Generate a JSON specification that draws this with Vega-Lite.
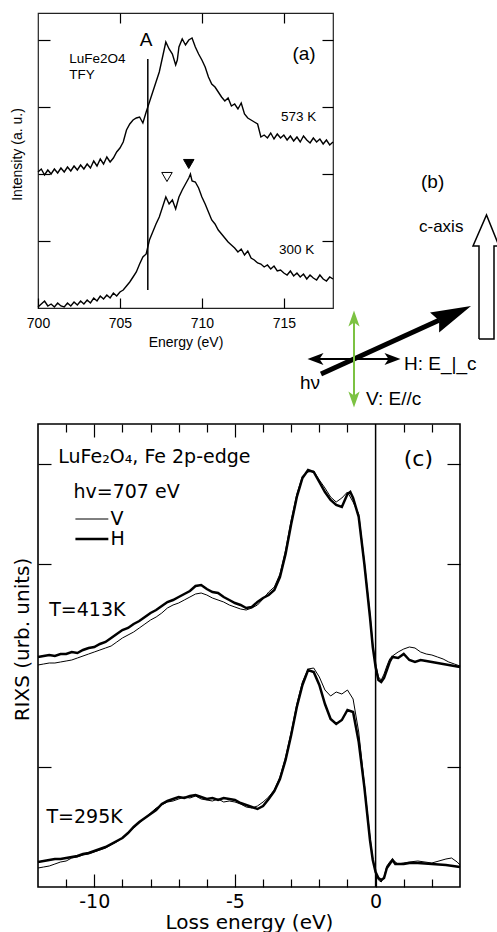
{
  "$schema": "https://vega.github.io/schema/vega-lite/v6.json",
  "background": "white",
  "padding": {"left": 9, "top": 11, "right": 0, "bottom": 0},
  "bounds": "flush",
  "spacing": 116,
  "config": {
    "font": "Liberation Sans",
    "view": {"stroke": "black", "strokeWidth": 1.5},
    "axis": {"domain": false, "grid": false, "tickColor": "black", "labelColor": "black", "titleColor": "black", "titleFontWeight": "normal", "tickWidth": 1.2, "labelFlush": false, "labelOverlap": false}
  },
  "datasets": {
    "xas": [
      {"E":700.0,"I":1,"T":"300"},{"E":700.2,"I":4,"T":"300"},{"E":700.4,"I":7,"T":"300"},{"E":700.6,"I":2,"T":"300"},{"E":700.8,"I":4,"T":"300"},
      {"E":701.0,"I":1,"T":"300"},{"E":701.2,"I":5,"T":"300"},{"E":701.4,"I":2,"T":"300"},{"E":701.6,"I":1,"T":"300"},{"E":701.8,"I":5,"T":"300"},
      {"E":702.0,"I":2,"T":"300"},{"E":702.2,"I":6,"T":"300"},{"E":702.4,"I":3,"T":"300"},{"E":702.6,"I":7,"T":"300"},{"E":702.8,"I":4,"T":"300"},
      {"E":703.0,"I":8,"T":"300"},{"E":703.2,"I":5,"T":"300"},{"E":703.4,"I":10,"T":"300"},{"E":703.6,"I":7,"T":"300"},{"E":703.8,"I":12,"T":"300"},
      {"E":704.0,"I":9,"T":"300"},{"E":704.2,"I":13,"T":"300"},{"E":704.4,"I":10,"T":"300"},{"E":704.6,"I":15,"T":"300"},{"E":704.8,"I":12,"T":"300"},
      {"E":705.0,"I":16,"T":"300"},{"E":705.2,"I":18,"T":"300"},{"E":705.4,"I":22,"T":"300"},{"E":705.6,"I":26,"T":"300"},{"E":705.8,"I":31,"T":"300"},
      {"E":706.0,"I":36,"T":"300"},{"E":706.2,"I":44,"T":"300"},{"E":706.4,"I":51,"T":"300"},{"E":706.6,"I":54,"T":"300"},{"E":706.8,"I":68,"T":"300"},
      {"E":707.0,"I":76,"T":"300"},{"E":707.2,"I":84,"T":"300"},{"E":707.4,"I":91,"T":"300"},{"E":707.6,"I":101,"T":"300"},{"E":707.8,"I":111,"T":"300"},
      {"E":708.0,"I":104,"T":"300"},{"E":708.2,"I":108,"T":"300"},{"E":708.4,"I":99,"T":"300"},{"E":708.6,"I":111,"T":"300"},{"E":708.8,"I":118,"T":"300"},
      {"E":709.0,"I":124,"T":"300"},{"E":709.2,"I":130,"T":"300"},{"E":709.3,"I":134,"T":"300"},{"E":709.4,"I":127,"T":"300"},{"E":709.6,"I":126,"T":"300"},
      {"E":709.8,"I":120,"T":"300"},{"E":710.0,"I":111,"T":"300"},{"E":710.2,"I":104,"T":"300"},{"E":710.4,"I":96,"T":"300"},{"E":710.6,"I":88,"T":"300"},
      {"E":710.8,"I":84,"T":"300"},{"E":711.0,"I":78,"T":"300"},{"E":711.2,"I":74,"T":"300"},{"E":711.4,"I":70,"T":"300"},{"E":711.6,"I":66,"T":"300"},
      {"E":711.8,"I":63,"T":"300"},{"E":712.0,"I":60,"T":"300"},{"E":712.2,"I":56,"T":"300"},{"E":712.4,"I":59,"T":"300"},{"E":712.6,"I":53,"T":"300"},
      {"E":712.8,"I":57,"T":"300"},{"E":713.0,"I":50,"T":"300"},{"E":713.2,"I":48,"T":"300"},{"E":713.4,"I":45,"T":"300"},{"E":713.6,"I":44,"T":"300"},
      {"E":713.8,"I":41,"T":"300"},{"E":714.0,"I":43,"T":"300"},{"E":714.2,"I":39,"T":"300"},{"E":714.4,"I":42,"T":"300"},{"E":714.6,"I":37,"T":"300"},
      {"E":714.8,"I":38,"T":"300"},{"E":715.0,"I":35,"T":"300"},{"E":715.2,"I":33,"T":"300"},{"E":715.4,"I":37,"T":"300"},{"E":715.6,"I":32,"T":"300"},
      {"E":715.8,"I":35,"T":"300"},{"E":716.0,"I":31,"T":"300"},{"E":716.2,"I":34,"T":"300"},{"E":716.4,"I":29,"T":"300"},{"E":716.6,"I":33,"T":"300"},
      {"E":716.8,"I":30,"T":"300"},{"E":717.0,"I":28,"T":"300"},{"E":717.2,"I":33,"T":"300"},{"E":717.4,"I":29,"T":"300"},{"E":717.6,"I":27,"T":"300"},
      {"E":717.8,"I":31,"T":"300"},{"E":718.0,"I":29,"T":"300"},
      {"E":700.0,"I":136,"T":"573"},{"E":700.2,"I":139,"T":"573"},{"E":700.4,"I":133,"T":"573"},{"E":700.6,"I":138,"T":"573"},{"E":700.8,"I":134,"T":"573"},
      {"E":701.0,"I":139,"T":"573"},{"E":701.2,"I":135,"T":"573"},{"E":701.4,"I":140,"T":"573"},{"E":701.6,"I":136,"T":"573"},{"E":701.8,"I":141,"T":"573"},
      {"E":702.0,"I":137,"T":"573"},{"E":702.2,"I":142,"T":"573"},{"E":702.4,"I":138,"T":"573"},{"E":702.6,"I":143,"T":"573"},{"E":702.8,"I":139,"T":"573"},
      {"E":703.0,"I":144,"T":"573"},{"E":703.2,"I":140,"T":"573"},{"E":703.4,"I":147,"T":"573"},{"E":703.6,"I":142,"T":"573"},{"E":703.8,"I":149,"T":"573"},
      {"E":704.0,"I":144,"T":"573"},{"E":704.2,"I":151,"T":"573"},{"E":704.4,"I":146,"T":"573"},{"E":704.6,"I":150,"T":"573"},{"E":704.8,"I":156,"T":"573"},
      {"E":705.0,"I":160,"T":"573"},{"E":705.2,"I":166,"T":"573"},{"E":705.4,"I":178,"T":"573"},{"E":705.6,"I":184,"T":"573"},{"E":705.8,"I":188,"T":"573"},
      {"E":706.0,"I":190,"T":"573"},{"E":706.2,"I":191,"T":"573"},{"E":706.4,"I":185,"T":"573"},{"E":706.6,"I":196,"T":"573"},{"E":706.8,"I":206,"T":"573"},
      {"E":707.0,"I":216,"T":"573"},{"E":707.2,"I":226,"T":"573"},{"E":707.4,"I":236,"T":"573"},{"E":707.6,"I":251,"T":"573"},{"E":707.8,"I":266,"T":"573"},
      {"E":708.0,"I":259,"T":"573"},{"E":708.2,"I":254,"T":"573"},{"E":708.4,"I":243,"T":"573"},{"E":708.5,"I":248,"T":"573"},{"E":708.6,"I":261,"T":"573"},
      {"E":708.8,"I":269,"T":"573"},{"E":709.0,"I":263,"T":"573"},{"E":709.2,"I":268,"T":"573"},{"E":709.4,"I":270,"T":"573"},{"E":709.6,"I":261,"T":"573"},
      {"E":709.8,"I":254,"T":"573"},{"E":710.0,"I":248,"T":"573"},{"E":710.2,"I":241,"T":"573"},{"E":710.4,"I":231,"T":"573"},{"E":710.6,"I":224,"T":"573"},
      {"E":710.8,"I":221,"T":"573"},{"E":711.0,"I":216,"T":"573"},{"E":711.2,"I":211,"T":"573"},{"E":711.4,"I":207,"T":"573"},{"E":711.6,"I":210,"T":"573"},
      {"E":711.8,"I":202,"T":"573"},{"E":712.0,"I":204,"T":"573"},{"E":712.2,"I":199,"T":"573"},{"E":712.4,"I":205,"T":"573"},{"E":712.6,"I":194,"T":"573"},
      {"E":712.8,"I":190,"T":"573"},{"E":713.0,"I":188,"T":"573"},{"E":713.2,"I":186,"T":"573"},{"E":713.4,"I":184,"T":"573"},{"E":713.6,"I":171,"T":"573"},
      {"E":713.8,"I":173,"T":"573"},{"E":714.0,"I":170,"T":"573"},{"E":714.2,"I":175,"T":"573"},{"E":714.4,"I":169,"T":"573"},{"E":714.6,"I":174,"T":"573"},
      {"E":714.8,"I":170,"T":"573"},{"E":715.0,"I":173,"T":"573"},{"E":715.2,"I":168,"T":"573"},{"E":715.4,"I":172,"T":"573"},{"E":715.6,"I":167,"T":"573"},
      {"E":715.8,"I":171,"T":"573"},{"E":716.0,"I":166,"T":"573"},{"E":716.2,"I":172,"T":"573"},{"E":716.4,"I":168,"T":"573"},{"E":716.6,"I":165,"T":"573"},
      {"E":716.8,"I":170,"T":"573"},{"E":717.0,"I":166,"T":"573"},{"E":717.2,"I":169,"T":"573"},{"E":717.4,"I":164,"T":"573"},{"E":717.6,"I":168,"T":"573"},
      {"E":717.8,"I":163,"T":"573"},{"E":718.0,"I":166,"T":"573"}
    ],
    "rixs": [
      {"L":-12,"R":230,"T":"413","pol":"H"},{"L":-11.8,"R":231,"T":"413","pol":"H"},{"L":-11.6,"R":232,"T":"413","pol":"H"},{"L":-11.4,"R":231,"T":"413","pol":"H"},{"L":-11.2,"R":233,"T":"413","pol":"H"},{"L":-11,"R":233,"T":"413","pol":"H"},{"L":-10.8,"R":235,"T":"413","pol":"H"},{"L":-10.6,"R":234,"T":"413","pol":"H"},{"L":-10.4,"R":237,"T":"413","pol":"H"},{"L":-10.2,"R":239,"T":"413","pol":"H"},
      {"L":-10,"R":240,"T":"413","pol":"H"},{"L":-9.8,"R":243,"T":"413","pol":"H"},{"L":-9.6,"R":245,"T":"413","pol":"H"},{"L":-9.4,"R":249,"T":"413","pol":"H"},{"L":-9.2,"R":253,"T":"413","pol":"H"},{"L":-9,"R":257,"T":"413","pol":"H"},{"L":-8.8,"R":259,"T":"413","pol":"H"},{"L":-8.6,"R":263,"T":"413","pol":"H"},{"L":-8.4,"R":266,"T":"413","pol":"H"},{"L":-8.2,"R":270,"T":"413","pol":"H"},
      {"L":-8,"R":274,"T":"413","pol":"H"},{"L":-7.8,"R":277,"T":"413","pol":"H"},{"L":-7.6,"R":281,"T":"413","pol":"H"},{"L":-7.4,"R":285,"T":"413","pol":"H"},{"L":-7.2,"R":287,"T":"413","pol":"H"},{"L":-7,"R":290,"T":"413","pol":"H"},{"L":-6.8,"R":293,"T":"413","pol":"H"},{"L":-6.6,"R":296,"T":"413","pol":"H"},{"L":-6.4,"R":301,"T":"413","pol":"H"},{"L":-6.2,"R":302,"T":"413","pol":"H"},
      {"L":-6,"R":298,"T":"413","pol":"H"},{"L":-5.8,"R":295,"T":"413","pol":"H"},{"L":-5.6,"R":294,"T":"413","pol":"H"},{"L":-5.4,"R":290,"T":"413","pol":"H"},{"L":-5.2,"R":287,"T":"413","pol":"H"},{"L":-5,"R":284,"T":"413","pol":"H"},{"L":-4.8,"R":282,"T":"413","pol":"H"},{"L":-4.6,"R":279,"T":"413","pol":"H"},{"L":-4.4,"R":280,"T":"413","pol":"H"},{"L":-4.2,"R":285,"T":"413","pol":"H"},
      {"L":-4,"R":289,"T":"413","pol":"H"},{"L":-3.8,"R":292,"T":"413","pol":"H"},{"L":-3.6,"R":297,"T":"413","pol":"H"},{"L":-3.4,"R":310,"T":"413","pol":"H"},{"L":-3.2,"R":333,"T":"413","pol":"H"},{"L":-3,"R":363,"T":"413","pol":"H"},{"L":-2.8,"R":390,"T":"413","pol":"H"},{"L":-2.6,"R":409,"T":"413","pol":"H"},{"L":-2.4,"R":417,"T":"413","pol":"H"},{"L":-2.2,"R":415,"T":"413","pol":"H"},
      {"L":-2,"R":405,"T":"413","pol":"H"},{"L":-1.8,"R":395,"T":"413","pol":"H"},{"L":-1.6,"R":387,"T":"413","pol":"H"},{"L":-1.4,"R":382,"T":"413","pol":"H"},{"L":-1.2,"R":380,"T":"413","pol":"H"},{"L":-1,"R":393,"T":"413","pol":"H"},{"L":-0.9,"R":395,"T":"413","pol":"H"},{"L":-0.8,"R":389,"T":"413","pol":"H"},{"L":-0.6,"R":370,"T":"413","pol":"H"},{"L":-0.4,"R":323,"T":"413","pol":"H"},
      {"L":-0.2,"R":270,"T":"413","pol":"H"},{"L":-0.1,"R":240,"T":"413","pol":"H"},{"L":0,"R":220,"T":"413","pol":"H"},{"L":0.1,"R":207,"T":"413","pol":"H"},{"L":0.2,"R":205,"T":"413","pol":"H"},{"L":0.3,"R":209,"T":"413","pol":"H"},{"L":0.4,"R":217,"T":"413","pol":"H"},{"L":0.5,"R":225,"T":"413","pol":"H"},{"L":0.6,"R":230,"T":"413","pol":"H"},{"L":0.8,"R":229,"T":"413","pol":"H"},
      {"L":1,"R":233,"T":"413","pol":"H"},{"L":1.2,"R":227,"T":"413","pol":"H"},{"L":1.4,"R":225,"T":"413","pol":"H"},{"L":1.6,"R":227,"T":"413","pol":"H"},{"L":1.8,"R":226,"T":"413","pol":"H"},{"L":2,"R":225,"T":"413","pol":"H"},{"L":2.2,"R":224,"T":"413","pol":"H"},{"L":2.4,"R":223,"T":"413","pol":"H"},{"L":2.6,"R":222,"T":"413","pol":"H"},{"L":2.8,"R":221,"T":"413","pol":"H"},{"L":3,"R":220,"T":"413","pol":"H"},

      {"L":-12,"R":222,"T":"413","pol":"V"},{"L":-11.8,"R":223,"T":"413","pol":"V"},{"L":-11.6,"R":224,"T":"413","pol":"V"},{"L":-11.4,"R":224,"T":"413","pol":"V"},{"L":-11.2,"R":225,"T":"413","pol":"V"},{"L":-11,"R":226,"T":"413","pol":"V"},{"L":-10.8,"R":227,"T":"413","pol":"V"},{"L":-10.6,"R":229,"T":"413","pol":"V"},{"L":-10.4,"R":231,"T":"413","pol":"V"},{"L":-10.2,"R":233,"T":"413","pol":"V"},
      {"L":-10,"R":235,"T":"413","pol":"V"},{"L":-9.8,"R":237,"T":"413","pol":"V"},{"L":-9.6,"R":239,"T":"413","pol":"V"},{"L":-9.4,"R":241,"T":"413","pol":"V"},{"L":-9.2,"R":245,"T":"413","pol":"V"},{"L":-9,"R":249,"T":"413","pol":"V"},{"L":-8.8,"R":252,"T":"413","pol":"V"},{"L":-8.6,"R":255,"T":"413","pol":"V"},{"L":-8.4,"R":259,"T":"413","pol":"V"},{"L":-8.2,"R":263,"T":"413","pol":"V"},
      {"L":-8,"R":267,"T":"413","pol":"V"},{"L":-7.8,"R":270,"T":"413","pol":"V"},{"L":-7.6,"R":274,"T":"413","pol":"V"},{"L":-7.4,"R":279,"T":"413","pol":"V"},{"L":-7.2,"R":282,"T":"413","pol":"V"},{"L":-7,"R":284,"T":"413","pol":"V"},{"L":-6.8,"R":287,"T":"413","pol":"V"},{"L":-6.6,"R":290,"T":"413","pol":"V"},{"L":-6.4,"R":293,"T":"413","pol":"V"},{"L":-6.2,"R":294,"T":"413","pol":"V"},
      {"L":-6,"R":292,"T":"413","pol":"V"},{"L":-5.8,"R":289,"T":"413","pol":"V"},{"L":-5.6,"R":287,"T":"413","pol":"V"},{"L":-5.4,"R":285,"T":"413","pol":"V"},{"L":-5.2,"R":282,"T":"413","pol":"V"},{"L":-5,"R":280,"T":"413","pol":"V"},{"L":-4.8,"R":278,"T":"413","pol":"V"},{"L":-4.6,"R":277,"T":"413","pol":"V"},{"L":-4.4,"R":279,"T":"413","pol":"V"},{"L":-4.2,"R":282,"T":"413","pol":"V"},
      {"L":-4,"R":288,"T":"413","pol":"V"},{"L":-3.8,"R":295,"T":"413","pol":"V"},{"L":-3.6,"R":300,"T":"413","pol":"V"},{"L":-3.4,"R":313,"T":"413","pol":"V"},{"L":-3.2,"R":337,"T":"413","pol":"V"},{"L":-3,"R":367,"T":"413","pol":"V"},{"L":-2.8,"R":393,"T":"413","pol":"V"},{"L":-2.6,"R":411,"T":"413","pol":"V"},{"L":-2.4,"R":415,"T":"413","pol":"V"},{"L":-2.2,"R":416,"T":"413","pol":"V"},
      {"L":-2,"R":407,"T":"413","pol":"V"},{"L":-1.8,"R":399,"T":"413","pol":"V"},{"L":-1.6,"R":390,"T":"413","pol":"V"},{"L":-1.4,"R":385,"T":"413","pol":"V"},{"L":-1.2,"R":389,"T":"413","pol":"V"},{"L":-1,"R":395,"T":"413","pol":"V"},{"L":-0.9,"R":390,"T":"413","pol":"V"},{"L":-0.8,"R":385,"T":"413","pol":"V"},{"L":-0.6,"R":373,"T":"413","pol":"V"},{"L":-0.4,"R":325,"T":"413","pol":"V"},
      {"L":-0.2,"R":273,"T":"413","pol":"V"},{"L":-0.1,"R":242,"T":"413","pol":"V"},{"L":0,"R":223,"T":"413","pol":"V"},{"L":0.1,"R":210,"T":"413","pol":"V"},{"L":0.2,"R":207,"T":"413","pol":"V"},{"L":0.3,"R":213,"T":"413","pol":"V"},{"L":0.4,"R":221,"T":"413","pol":"V"},{"L":0.5,"R":228,"T":"413","pol":"V"},{"L":0.6,"R":231,"T":"413","pol":"V"},{"L":0.8,"R":235,"T":"413","pol":"V"},
      {"L":1,"R":238,"T":"413","pol":"V"},{"L":1.2,"R":240,"T":"413","pol":"V"},{"L":1.4,"R":239,"T":"413","pol":"V"},{"L":1.6,"R":235,"T":"413","pol":"V"},{"L":1.8,"R":233,"T":"413","pol":"V"},{"L":2,"R":232,"T":"413","pol":"V"},{"L":2.2,"R":230,"T":"413","pol":"V"},{"L":2.4,"R":228,"T":"413","pol":"V"},{"L":2.6,"R":225,"T":"413","pol":"V"},{"L":2.8,"R":223,"T":"413","pol":"V"},{"L":3,"R":221,"T":"413","pol":"V"},

      {"L":-12,"R":25,"T":"295","pol":"H"},{"L":-11.8,"R":26,"T":"295","pol":"H"},{"L":-11.6,"R":27,"T":"295","pol":"H"},{"L":-11.4,"R":28,"T":"295","pol":"H"},{"L":-11.2,"R":28,"T":"295","pol":"H"},{"L":-11,"R":29,"T":"295","pol":"H"},{"L":-10.8,"R":30,"T":"295","pol":"H"},{"L":-10.6,"R":31,"T":"295","pol":"H"},{"L":-10.4,"R":33,"T":"295","pol":"H"},{"L":-10.2,"R":34,"T":"295","pol":"H"},
      {"L":-10,"R":36,"T":"295","pol":"H"},{"L":-9.8,"R":38,"T":"295","pol":"H"},{"L":-9.6,"R":40,"T":"295","pol":"H"},{"L":-9.4,"R":43,"T":"295","pol":"H"},{"L":-9.2,"R":46,"T":"295","pol":"H"},{"L":-9,"R":49,"T":"295","pol":"H"},{"L":-8.8,"R":54,"T":"295","pol":"H"},{"L":-8.6,"R":60,"T":"295","pol":"H"},{"L":-8.4,"R":65,"T":"295","pol":"H"},{"L":-8.2,"R":69,"T":"295","pol":"H"},
      {"L":-8,"R":73,"T":"295","pol":"H"},{"L":-7.8,"R":77,"T":"295","pol":"H"},{"L":-7.6,"R":83,"T":"295","pol":"H"},{"L":-7.4,"R":86,"T":"295","pol":"H"},{"L":-7.2,"R":88,"T":"295","pol":"H"},{"L":-7,"R":90,"T":"295","pol":"H"},{"L":-6.8,"R":89,"T":"295","pol":"H"},{"L":-6.6,"R":91,"T":"295","pol":"H"},{"L":-6.4,"R":92,"T":"295","pol":"H"},{"L":-6.2,"R":90,"T":"295","pol":"H"},
      {"L":-6,"R":88,"T":"295","pol":"H"},{"L":-5.8,"R":89,"T":"295","pol":"H"},{"L":-5.6,"R":87,"T":"295","pol":"H"},{"L":-5.4,"R":89,"T":"295","pol":"H"},{"L":-5.2,"R":88,"T":"295","pol":"H"},{"L":-5,"R":87,"T":"295","pol":"H"},{"L":-4.8,"R":84,"T":"295","pol":"H"},{"L":-4.6,"R":82,"T":"295","pol":"H"},{"L":-4.4,"R":80,"T":"295","pol":"H"},{"L":-4.2,"R":78,"T":"295","pol":"H"},
      {"L":-4,"R":81,"T":"295","pol":"H"},{"L":-3.8,"R":88,"T":"295","pol":"H"},{"L":-3.6,"R":96,"T":"295","pol":"H"},{"L":-3.4,"R":108,"T":"295","pol":"H"},{"L":-3.2,"R":127,"T":"295","pol":"H"},{"L":-3,"R":152,"T":"295","pol":"H"},{"L":-2.8,"R":180,"T":"295","pol":"H"},{"L":-2.6,"R":202,"T":"295","pol":"H"},{"L":-2.4,"R":217,"T":"295","pol":"H"},{"L":-2.2,"R":215,"T":"295","pol":"H"},
      {"L":-2,"R":202,"T":"295","pol":"H"},{"L":-1.8,"R":183,"T":"295","pol":"H"},{"L":-1.6,"R":168,"T":"295","pol":"H"},{"L":-1.4,"R":163,"T":"295","pol":"H"},{"L":-1.2,"R":167,"T":"295","pol":"H"},{"L":-1,"R":177,"T":"295","pol":"H"},{"L":-0.8,"R":175,"T":"295","pol":"H"},{"L":-0.6,"R":145,"T":"295","pol":"H"},{"L":-0.4,"R":100,"T":"295","pol":"H"},{"L":-0.2,"R":47,"T":"295","pol":"H"},
      {"L":-0.1,"R":27,"T":"295","pol":"H"},{"L":0,"R":15,"T":"295","pol":"H"},{"L":0.1,"R":9,"T":"295","pol":"H"},{"L":0.2,"R":7,"T":"295","pol":"H"},{"L":0.3,"R":9,"T":"295","pol":"H"},{"L":0.4,"R":19,"T":"295","pol":"H"},{"L":0.5,"R":23,"T":"295","pol":"H"},{"L":0.6,"R":27,"T":"295","pol":"H"},{"L":0.7,"R":23,"T":"295","pol":"H"},{"L":0.8,"R":23,"T":"295","pol":"H"},
      {"L":1,"R":23,"T":"295","pol":"H"},{"L":1.2,"R":24,"T":"295","pol":"H"},{"L":1.5,"R":24,"T":"295","pol":"H"},{"L":2,"R":23,"T":"295","pol":"H"},{"L":2.5,"R":22,"T":"295","pol":"H"},{"L":3,"R":20,"T":"295","pol":"H"},

      {"L":-12,"R":19,"T":"295","pol":"V"},{"L":-11.8,"R":20,"T":"295","pol":"V"},{"L":-11.6,"R":21,"T":"295","pol":"V"},{"L":-11.4,"R":23,"T":"295","pol":"V"},{"L":-11.2,"R":25,"T":"295","pol":"V"},{"L":-11,"R":26,"T":"295","pol":"V"},{"L":-10.8,"R":29,"T":"295","pol":"V"},{"L":-10.6,"R":30,"T":"295","pol":"V"},{"L":-10.4,"R":32,"T":"295","pol":"V"},{"L":-10.2,"R":33,"T":"295","pol":"V"},
      {"L":-10,"R":35,"T":"295","pol":"V"},{"L":-9.8,"R":37,"T":"295","pol":"V"},{"L":-9.6,"R":39,"T":"295","pol":"V"},{"L":-9.4,"R":42,"T":"295","pol":"V"},{"L":-9.2,"R":45,"T":"295","pol":"V"},{"L":-9,"R":49,"T":"295","pol":"V"},{"L":-8.8,"R":55,"T":"295","pol":"V"},{"L":-8.6,"R":59,"T":"295","pol":"V"},{"L":-8.4,"R":64,"T":"295","pol":"V"},{"L":-8.2,"R":69,"T":"295","pol":"V"},
      {"L":-8,"R":74,"T":"295","pol":"V"},{"L":-7.8,"R":79,"T":"295","pol":"V"},{"L":-7.6,"R":82,"T":"295","pol":"V"},{"L":-7.4,"R":85,"T":"295","pol":"V"},{"L":-7.2,"R":86,"T":"295","pol":"V"},{"L":-7,"R":88,"T":"295","pol":"V"},{"L":-6.8,"R":90,"T":"295","pol":"V"},{"L":-6.6,"R":89,"T":"295","pol":"V"},{"L":-6.4,"R":91,"T":"295","pol":"V"},{"L":-6.2,"R":88,"T":"295","pol":"V"},
      {"L":-6,"R":87,"T":"295","pol":"V"},{"L":-5.8,"R":86,"T":"295","pol":"V"},{"L":-5.6,"R":88,"T":"295","pol":"V"},{"L":-5.4,"R":85,"T":"295","pol":"V"},{"L":-5.2,"R":86,"T":"295","pol":"V"},{"L":-5,"R":85,"T":"295","pol":"V"},{"L":-4.8,"R":83,"T":"295","pol":"V"},{"L":-4.6,"R":80,"T":"295","pol":"V"},{"L":-4.4,"R":79,"T":"295","pol":"V"},{"L":-4.2,"R":81,"T":"295","pol":"V"},
      {"L":-4,"R":85,"T":"295","pol":"V"},{"L":-3.8,"R":90,"T":"295","pol":"V"},{"L":-3.6,"R":97,"T":"295","pol":"V"},{"L":-3.4,"R":110,"T":"295","pol":"V"},{"L":-3.2,"R":130,"T":"295","pol":"V"},{"L":-3,"R":155,"T":"295","pol":"V"},{"L":-2.8,"R":183,"T":"295","pol":"V"},{"L":-2.6,"R":205,"T":"295","pol":"V"},{"L":-2.4,"R":218,"T":"295","pol":"V"},{"L":-2.2,"R":219,"T":"295","pol":"V"},
      {"L":-2,"R":210,"T":"295","pol":"V"},{"L":-1.8,"R":197,"T":"295","pol":"V"},{"L":-1.6,"R":191,"T":"295","pol":"V"},{"L":-1.4,"R":195,"T":"295","pol":"V"},{"L":-1.2,"R":193,"T":"295","pol":"V"},{"L":-1,"R":197,"T":"295","pol":"V"},{"L":-0.8,"R":188,"T":"295","pol":"V"},{"L":-0.6,"R":155,"T":"295","pol":"V"},{"L":-0.4,"R":103,"T":"295","pol":"V"},{"L":-0.2,"R":50,"T":"295","pol":"V"},
      {"L":-0.1,"R":28,"T":"295","pol":"V"},{"L":0,"R":15,"T":"295","pol":"V"},{"L":0.1,"R":7,"T":"295","pol":"V"},{"L":0.2,"R":5,"T":"295","pol":"V"},{"L":0.3,"R":10,"T":"295","pol":"V"},{"L":0.4,"R":21,"T":"295","pol":"V"},{"L":0.5,"R":25,"T":"295","pol":"V"},{"L":0.6,"R":28,"T":"295","pol":"V"},{"L":0.7,"R":25,"T":"295","pol":"V"},{"L":0.8,"R":23,"T":"295","pol":"V"},
      {"L":1,"R":24,"T":"295","pol":"V"},{"L":1.2,"R":25,"T":"295","pol":"V"},{"L":1.5,"R":26,"T":"295","pol":"V"},{"L":2,"R":24,"T":"295","pol":"V"},{"L":2.5,"R":28,"T":"295","pol":"V"},{"L":2.7,"R":29,"T":"295","pol":"V"},{"L":2.9,"R":25,"T":"295","pol":"V"},{"L":3,"R":22,"T":"295","pol":"V"}
    ]
  },
  "vconcat": [
    {
      "width": 295,
      "height": 295,
      "view": {"stroke": "#222", "strokeWidth": 1.2},
      "resolve": {"scale": {"x": "independent", "y": "independent"}},
      "layer": [
        {
          "resolve": {"axis": {"x": "independent", "y": "independent"}},
          "encoding": {
            "x": {"field": "E", "type": "quantitative", "scale": {"domain": [700, 718], "nice": false, "zero": false}, "axis": null},
            "y": {"field": "I", "type": "quantitative", "scale": {"domain": [0, 295], "nice": false, "zero": false}, "axis": null}
          },
          "layer": [
            {
              "data": {"name": "xas"},
              "mark": {"type": "line", "color": "black", "strokeWidth": 1.4},
              "encoding": {
                "x": {"field": "E", "type": "quantitative", "scale": {"domain": [700, 718], "nice": false, "zero": false},
                  "axis": {"orient": "bottom", "values": [700, 705, 710, 715], "tickSize": -10, "labelPadding": 18, "labelFontSize": 14, "title": "Energy (eV)", "titleFontSize": 14, "titlePadding": 5}},
                "y": {"field": "I", "type": "quantitative", "scale": {"domain": [0, 295], "nice": false, "zero": false},
                  "axis": {"orient": "left", "values": [67, 134, 201, 268], "tickSize": -12, "labels": false, "title": "Intensity (a. u.)", "titleFontSize": 14, "titlePadding": 13, "titleY": 141}},
                "detail": {"field": "T"}
              }
            },
            {
              "data": {"values": [{"E": 706.7, "I": 18, "I2": 249}]},
              "mark": {"type": "rule", "color": "black", "strokeWidth": 1.5},
              "encoding": {
                "x": {"field": "E", "type": "quantitative", "scale": {"domain": [700, 718], "nice": false, "zero": false},
                  "axis": {"orient": "top", "values": [705, 710, 715], "tickSize": -10, "labels": false, "title": null}},
                "y": {"field": "I", "type": "quantitative", "scale": {"domain": [0, 295], "nice": false, "zero": false},
                  "axis": {"orient": "right", "values": [67, 134, 201, 268], "tickSize": -11, "labels": false, "title": null}},
                "y2": {"field": "I2"}
              }
            },
            {
              "data": {"values": [{"E": 707.87, "I": 131, "kind": "open"}, {"E": 709.2, "I": 144, "kind": "filled"}]},
              "mark": {"type": "point", "shape": "triangle-down", "size": 110, "stroke": "black", "strokeWidth": 1, "opacity": 1},
              "encoding": {
                "fill": {"field": "kind", "type": "nominal", "scale": {"domain": ["open", "filled"], "range": ["white", "black"]}, "legend": null}
              }
            },
            {
              "data": {"values": [
                {"E": 701.9, "I": 249, "label": "LuFe2O4"},
                {"E": 701.9, "I": 233, "label": "TFY"},
                {"E": 714.83, "I": 191, "label": "573 K"},
                {"E": 714.7, "I": 58, "label": "300 K"}
              ]},
              "mark": {"type": "text", "align": "left", "baseline": "middle", "fontSize": 13.5, "color": "black"},
              "encoding": {"text": {"field": "label"}}
            },
            {
              "data": {"values": [
                {"E": 706.6, "I": 268, "label": "A"},
                {"E": 716.23, "I": 254, "label": "(a)"}
              ]},
              "mark": {"type": "text", "align": "center", "baseline": "middle", "fontSize": 19, "color": "black"},
              "encoding": {"text": {"field": "label"}}
            }
          ]
        },
        {
          "encoding": {
            "x": {"field": "u", "type": "quantitative", "scale": {"domain": [0, 20], "range": [263, 463], "nice": false, "zero": false}, "axis": null},
            "y": {"field": "w", "type": "quantitative", "scale": {"domain": [0, 25], "range": [399, 149], "nice": false, "zero": false}, "axis": null}
          },
          "layer": [
            {
              "data": {"values": [
                {"k": 0, "u": 17.8, "w": 7.3}, {"k": 1, "u": 17.8, "w": 16.6}, {"k": 2, "u": 17.2, "w": 16.6},
                {"k": 3, "u": 18.55, "w": 19.7}, {"k": 4, "u": 19.8, "w": 16.6}, {"k": 5, "u": 19.3, "w": 16.6},
                {"k": 6, "u": 19.3, "w": 7.3}, {"k": 7, "u": 17.8, "w": 7.3}
              ]},
              "mark": {"type": "line", "color": "black", "strokeWidth": 1.5, "strokeJoin": "miter"},
              "encoding": {"order": {"field": "k", "type": "quantitative"}}
            },
            {
              "data": {"values": [{"u": 2.0, "w": 3.8, "u2": 13.8, "w2": 9.18}]},
              "mark": {"type": "rule", "color": "black", "strokeWidth": 5},
              "encoding": {"x2": {"field": "u2"}, "y2": {"field": "w2"}}
            },
            {
              "data": {"values": [{"u": 15.18, "w": 9.77}]},
              "mark": {"type": "point", "filled": true, "opacity": 1, "color": "black", "strokeWidth": 0, "size": 1600, "angle": -24.4, "shape": "M1,0L-1,-0.55L-0.75,0L-1,0.55Z"}
            },
            {
              "data": {"values": [
                {"u": 1.2, "w": 5.3, "u2": 9.6, "w2": 5.3, "arrow": "H"},
                {"u": 5.3, "w": 9.6, "u2": 5.3, "w2": 1.0, "arrow": "V"}
              ]},
              "mark": {"type": "rule", "strokeWidth": 2},
              "encoding": {
                "x2": {"field": "u2"}, "y2": {"field": "w2"},
                "color": {"field": "arrow", "type": "nominal", "scale": {"domain": ["H", "V"], "range": ["black", "#7cc242"]}, "legend": null}
              }
            },
            {
              "data": {"values": [
                {"u": 1.45, "w": 5.3, "arrow": "H", "dir": "left"},
                {"u": 9.15, "w": 5.3, "arrow": "H", "dir": "right"},
                {"u": 5.3, "w": 9.35, "arrow": "V", "dir": "up"},
                {"u": 5.3, "w": 1.25, "arrow": "V", "dir": "down"}
              ]},
              "mark": {"type": "point", "filled": true, "opacity": 1, "strokeWidth": 0, "size": 256},
              "encoding": {
                "shape": {"field": "dir", "type": "nominal", "scale": {"domain": ["left", "right", "up", "down"], "range": ["M-1,0L1,-0.75L0.5,0L1,0.75Z", "M1,0L-1,-0.75L-0.5,0L-1,0.75Z", "M0,-1L-0.7,1L0,0.5L0.7,1Z", "M0,1L-0.7,-1L0,-0.5L0.7,-1Z"]}, "legend": null},
                "color": {"field": "arrow", "type": "nominal", "scale": {"domain": ["H", "V"], "range": ["black", "#7cc242"]}, "legend": null}
              }
            },
            {
              "data": {"values": [
                {"u": 12.0, "w": 23.0, "label": "(b)"},
                {"u": 10.3, "w": 4.8, "label": "H: E_|_c"},
                {"u": 6.5, "w": 1.3, "label": "V: E//c"},
                {"u": -0.1, "w": 2.9, "label": "hν"}
              ]},
              "mark": {"type": "text", "align": "left", "baseline": "middle", "fontSize": 19, "color": "black"},
              "encoding": {"text": {"field": "label"}}
            },
            {
              "data": {"values": [{"u": 11.8, "w": 18.5, "label": "c-axis"}]},
              "mark": {"type": "text", "align": "left", "baseline": "middle", "fontSize": 17, "color": "black"},
              "encoding": {"text": {"field": "label"}}
            }
          ]
        }
      ]
    },
    {
      "width": 422,
      "height": 463,
      "view": {"stroke": "black", "strokeWidth": 1.6},
      "resolve": {"axis": {"x": "independent", "y": "independent"}},
      "encoding": {
        "x": {"field": "L", "type": "quantitative", "scale": {"domain": [-12, 3], "nice": false, "zero": false}, "axis": null},
        "y": {"field": "R", "type": "quantitative", "scale": {"domain": [0, 463], "nice": false, "zero": false}, "axis": null}
      },
      "layer": [
        {
          "data": {"name": "rixs"},
          "mark": {"type": "line", "color": "black"},
          "encoding": {
            "x": {"field": "L", "type": "quantitative", "scale": {"domain": [-12, 3], "nice": false, "zero": false},
              "axis": {"orient": "bottom", "values": [-11, -10, -9, -8, -7, -6, -5, -4, -3, -2, -1, 0, 1, 2],
                "tickSize": {"condition": {"test": "datum.value % 5 === 0", "value": -13}, "value": -8},
                "labelExpr": "datum.value % 5 === 0 ? '' + datum.value : ''",
                "labelFont": "DejaVu Sans", "labelFontSize": 19, "labelPadding": 18,
                "title": "Loss energy (eV)", "titleFont": "DejaVu Sans", "titleFontSize": 20, "titlePadding": -4}},
            "y": {"field": "R", "type": "quantitative", "scale": {"domain": [0, 463], "nice": false, "zero": false},
              "axis": {"orient": "left", "values": [120, 323, 423], "tickSize": -13, "labels": false,
                "title": "RIXS  (urb. units)", "titleFont": "DejaVu Sans", "titleFontSize": 20, "titlePadding": 5, "titleY": 215}},
            "strokeWidth": {"field": "pol", "type": "nominal", "scale": {"domain": ["V", "H"], "range": [1, 2.5]}, "legend": null},
            "detail": {"field": "T"}
          }
        },
        {
          "data": {"values": [{"L": 0, "R": 0, "R2": 463}]},
          "mark": {"type": "rule", "color": "black", "strokeWidth": 1.5},
          "encoding": {
            "x": {"field": "L", "type": "quantitative", "scale": {"domain": [-12, 3], "nice": false, "zero": false},
              "axis": {"orient": "top", "values": [-11, -10, -9, -8, -7, -6, -5, -4, -3, -2, -1, 1, 2],
                "tickSize": {"condition": {"test": "datum.value % 5 === 0", "value": -13}, "value": -8}, "labels": false, "title": null}},
            "y": {"field": "R", "type": "quantitative", "scale": {"domain": [0, 463], "nice": false, "zero": false},
              "axis": {"orient": "right", "values": [120, 323, 423], "tickSize": -13, "labels": false, "title": null}},
            "y2": {"field": "R2"}
          }
        },
        {
          "data": {"values": [
            {"L": -10.67, "L2": -9.5, "R": 368, "pol": "V"},
            {"L": -10.67, "L2": -9.5, "R": 348, "pol": "H"}
          ]},
          "mark": {"type": "rule", "color": "black"},
          "encoding": {
            "x2": {"field": "L2"},
            "strokeWidth": {"field": "pol", "type": "nominal", "scale": {"domain": ["V", "H"], "range": [1, 2.5]}, "legend": null}
          }
        },
        {
          "data": {"values": [
            {"L": -11.28, "R": 430, "label": "LuFe₂O₄, Fe 2p-edge"},
            {"L": -10.74, "R": 395, "label": "hv=707 eV"},
            {"L": -9.42, "R": 368, "label": "V"},
            {"L": -9.42, "R": 348, "label": "H"},
            {"L": -11.6, "R": 277, "label": "T=413K"},
            {"L": -11.7, "R": 70, "label": "T=295K"}
          ]},
          "mark": {"type": "text", "align": "left", "baseline": "middle", "font": "DejaVu Sans", "fontSize": 19, "color": "black"},
          "encoding": {"text": {"field": "label"}}
        },
        {
          "data": {"values": [{"L": 1.52, "R": 428, "label": "(c)"}]},
          "mark": {"type": "text", "align": "center", "baseline": "middle", "font": "DejaVu Sans", "fontSize": 22, "color": "black"},
          "encoding": {"text": {"field": "label"}}
        }
      ]
    }
  ]
}
